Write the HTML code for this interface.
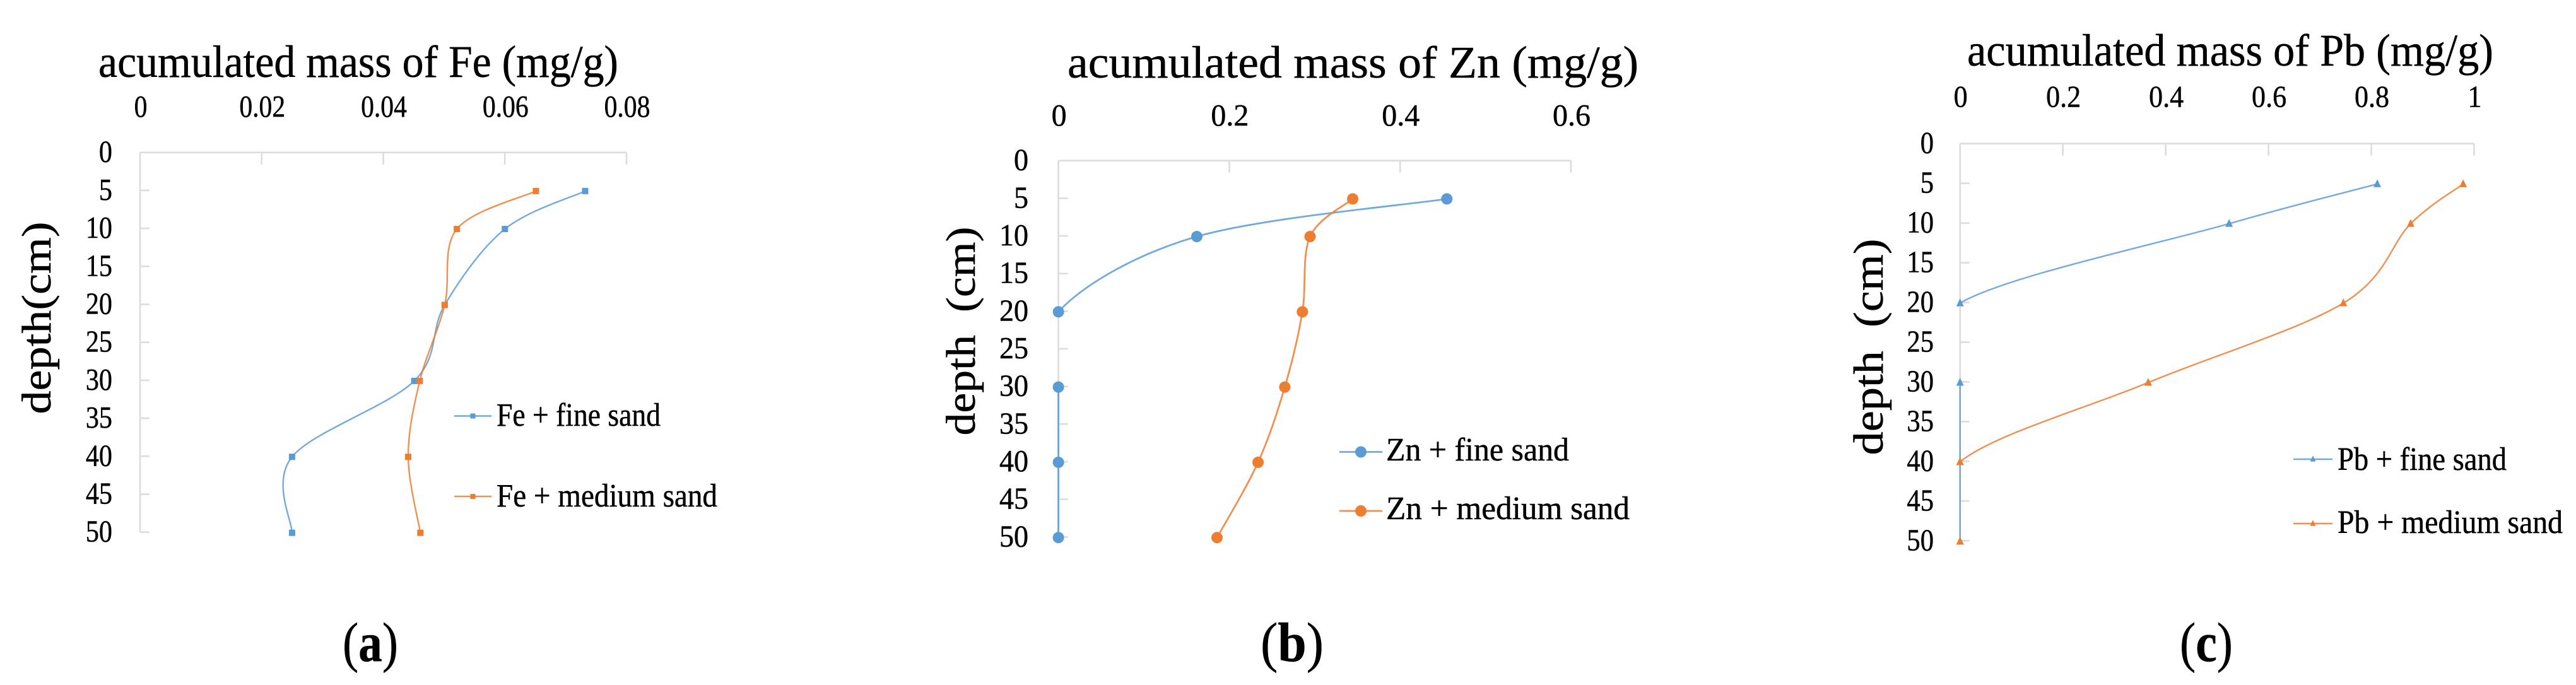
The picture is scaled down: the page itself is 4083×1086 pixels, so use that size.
<!DOCTYPE html>
<html lang="en">
<head>
<meta charset="utf-8">
<title>Accumulated mass of Fe, Zn and Pb by depth</title>
<style>
html,body{margin:0;padding:0;background:#fff;}
svg{display:block;}
text{font-family:"Liberation Serif",serif;fill:#000;stroke:#000;stroke-width:0.5px;white-space:pre;}
</style>
</head>
<body>
<svg id="figure" xmlns="http://www.w3.org/2000/svg" width="4083" height="1086" viewBox="0 0 4083 1086">
  <g id="chart-a">
    <text x="156" y="122" font-size="72" textLength="824" lengthAdjust="spacingAndGlyphs">acumulated mass of Fe (mg/g)</text>
    <text transform="translate(80,504) rotate(-90)" text-anchor="middle" font-size="66" textLength="305" lengthAdjust="spacingAndGlyphs">depth(cm)</text>
    <text x="787" y="675" font-size="52" textLength="260" lengthAdjust="spacingAndGlyphs">Fe + fine sand</text>
    <text x="787" y="803" font-size="52" textLength="350" lengthAdjust="spacingAndGlyphs">Fe + medium sand</text>
    <text x="543" y="1048" font-size="88" textLength="88" lengthAdjust="spacingAndGlyphs">(<tspan font-weight="bold">a</tspan>)</text>
  </g>
  <g id="chart-b">
    <text x="1692" y="123" font-size="72" textLength="905" lengthAdjust="spacingAndGlyphs">acumulated mass of Zn (mg/g)</text>
    <text transform="translate(1545,525) rotate(-90)" text-anchor="middle" font-size="66" textLength="331" lengthAdjust="spacingAndGlyphs">depth  (cm)</text>
    <text x="2197" y="730" font-size="52" textLength="290" lengthAdjust="spacingAndGlyphs">Zn + fine sand</text>
    <text x="2197" y="823" font-size="52" textLength="386" lengthAdjust="spacingAndGlyphs">Zn + medium sand</text>
    <text x="1998" y="1048" font-size="88" textLength="100" lengthAdjust="spacingAndGlyphs">(<tspan font-weight="bold">b</tspan>)</text>
  </g>
  <g id="chart-c">
    <text x="3118" y="104" font-size="72" textLength="834" lengthAdjust="spacingAndGlyphs">acumulated mass of Pb (mg/g)</text>
    <text transform="translate(2984,550) rotate(-90)" text-anchor="middle" font-size="67" textLength="343" lengthAdjust="spacingAndGlyphs">depth  (cm)</text>
    <text x="3705" y="745" font-size="52" textLength="268" lengthAdjust="spacingAndGlyphs">Pb + fine sand</text>
    <text x="3705" y="845" font-size="52" textLength="357" lengthAdjust="spacingAndGlyphs">Pb + medium sand</text>
    <text x="3455" y="1048" font-size="88" textLength="84" lengthAdjust="spacingAndGlyphs">(<tspan font-weight="bold">c</tspan>)</text>
  </g>
</svg>
<script>
// Shared depth categories and tick labels
const depths = [5, 10, 20, 30, 40, 50];
const depthTicks = [0, 5, 10, 15, 20, 25, 30, 35, 40, 45, 50];

// Fe chart data
const feTicks = [0, 0.02, 0.04, 0.06, 0.08];
const feTickLabels = ['0', '0.02', '0.04', '0.06', '0.08'];
const feFine = [0.0732, 0.06, 0.0501, 0.0451, 0.025, 0.025];
const feMedium = [0.0651, 0.0521, 0.0501, 0.046, 0.0441, 0.0461];
const feFineGaps = [];
const feMediumGaps = [];

// Zn chart data
const znTicks = [0, 0.2, 0.4, 0.6];
const znTickLabels = ['0', '0.2', '0.4', '0.6'];
const znFine = [0.4547, 0.162, 0, 0, 0, 0];
const znMedium = [0.3445, 0.2946, 0.2856, 0.265, 0.2337, 0.1857];
const znFineGaps = [20];
const znMediumGaps = [];

// Pb chart data
const pbTicks = [0, 0.2, 0.4, 0.6, 0.8, 1];
const pbTickLabels = ['0', '0.2', '0.4', '0.6', '0.8', '1'];
const pbFine = [0.8117, 0.5234, 0, 0, 0, 0];
const pbMedium = [0.9787, 0.8766, 0.7457, 0.366, 0, 0];
const pbFineGaps = [20];
const pbMediumGaps = [40];

const SVGNS = 'http://www.w3.org/2000/svg';
const BLUE = '#5b9bd5';
const ORANGE = '#ed7d31';
const AXIS = '#dcdcdc';

function make(tag, parent, attrs) {
  const el = document.createElementNS(SVGNS, tag);
  for (const k in attrs) el.setAttribute(k, attrs[k]);
  parent.appendChild(el);
  return el;
}

function drawMarker(parent, shape, cx, cy, size, color, name) {
  let el;
  if (shape === 'square') {
    el = make('rect', parent, {x: cx - size / 2, y: cy - size / 2, width: size, height: size, fill: color});
  } else if (shape === 'circle') {
    el = make('circle', parent, {cx: cx, cy: cy, r: size / 2, fill: color});
  } else {
    const pts = [[cx, cy - size * 0.62], [cx + size / 2, cy + size * 0.42], [cx - size / 2, cy + size * 0.42]];
    el = make('polygon', parent, {points: pts.map(p => p.join(',')).join(' '), fill: color});
  }
  
  
  return el;
}

// Smoothed path over the whole series; segments that start at a gap depth are skipped,
// but their points still shape the neighbouring curves.
function smoothPath(pts, skip) {
  let d = '';
  for (let i = 0; i < pts.length - 1; i++) {
    if (skip[i]) continue;
    const p0 = pts[Math.max(i - 1, 0)], p1 = pts[i], p2 = pts[i + 1], p3 = pts[Math.min(i + 2, pts.length - 1)];
    d += 'M' + p1[0] + ' ' + p1[1];
    d += 'C' + (p1[0] + (p2[0] - p0[0]) / 6) + ' ' + (p1[1] + (p2[1] - p0[1]) / 6) + ' '
      + (p2[0] - (p3[0] - p1[0]) / 6) + ' ' + (p2[1] - (p3[1] - p1[1]) / 6) + ' '
      + p2[0] + ' ' + p2[1];
  }
  return d;
}

function drawChart(cfg) {
  const root = document.getElementById(cfg.id);
  const maxX = cfg.xTicks[cfg.xTicks.length - 1];
  const xScale = v => cfg.left + (v / maxX) * (cfg.right - cfg.left);
  const yScale = d => cfg.top + (d / 50) * (cfg.bottom - cfg.top);

  const axes = make('g', root, {stroke: AXIS, 'stroke-width': 2.6, fill: 'none'});
  
  

  const xLine = make('line', axes, {x1: cfg.left, x2: cfg.right, y1: cfg.top, y2: cfg.top});
  
  
  const yLine = make('line', axes, {x1: cfg.left, x2: cfg.left, y1: cfg.top, y2: cfg.bottom});
  
  

  cfg.xTicks.forEach((t, i) => {
    const x = xScale(t);
    if (i > 0) {
      const tick = make('line', axes, {x1: x, x2: x, y1: cfg.top, y2: cfg.top + 19});
      
      
    }
    const label = make('text', root, {
      transform: 'translate(' + (x + 1) + ',' + cfg.xLabelY + ') scale(' + cfg.xSx + ',1)',
      'text-anchor': 'middle', 'font-size': 49
    });
    label.textContent = cfg.xLabels[i];
    
    
  });

  depthTicks.forEach(d => {
    const y = yScale(d);
    if (d > 0) {
      const tick = make('line', axes, {x1: cfg.left, x2: cfg.left + 15, y1: y, y2: y});
      
      
    }
    const label = make('text', root, {
      transform: 'translate(' + cfg.yLabelX + ',' + (y + 15) + ') scale(' + cfg.ySx + ',1)',
      'text-anchor': 'end', 'font-size': 49
    });
    label.textContent = String(d);
    
    
  });

  cfg.series.forEach(s => {
    const group = make('g', root, {});
    
    

    const pts = depths.map((d, i) => [xScale(s.values[i]), yScale(d) + 1]);
    const skip = depths.map(d => s.gaps.indexOf(d) >= 0);
    const path = make('path', group, {d: smoothPath(pts, skip), fill: 'none', stroke: s.color, 'stroke-width': cfg.lineW, 'stroke-opacity': 0.85});
    
    

    depths.forEach((d, i) => {
      drawMarker(group, cfg.shape, xScale(s.values[i]), yScale(d) + 1, cfg.markerSize, s.color, cfg.key + '-point-' + s.label);
    });

    const legendLine = make('line', root, {x1: cfg.legX1, x2: cfg.legX2, y1: s.legY, y2: s.legY, stroke: s.color, 'stroke-width': cfg.lineW, 'stroke-opacity': 0.85});
    
    
    drawMarker(root, cfg.shape, (cfg.legX1 + cfg.legX2) / 2, s.legY, cfg.legMarker, s.color, cfg.key + '-legend-marker-' + s.label);
  });
}

drawChart({
  id: 'chart-a', key: 'fe', left: 222, right: 993, top: 241.7, bottom: 843.7,
  xTicks: feTicks, xLabels: feTickLabels, xLabelY: 185, yLabelX: 178, xSx: 0.85, ySx: 0.86,
  shape: 'square', markerSize: 10, legMarker: 8, lineW: 2.4, legX1: 720, legX2: 779,
  series: [
    {label: 'fine-sand', values: feFine, gaps: feFineGaps, color: BLUE, legY: 659.5},
    {label: 'medium-sand', values: feMedium, gaps: feMediumGaps, color: ORANGE, legY: 787}
  ]
});
drawChart({
  id: 'chart-b', key: 'zn', left: 1677.6, right: 2490, top: 254.7, bottom: 851.3,
  xTicks: znTicks, xLabels: znTickLabels, xLabelY: 199, yLabelX: 1630, xSx: 0.98, ySx: 0.94,
  shape: 'circle', markerSize: 18, legMarker: 18, lineW: 2.8, legX1: 2123, legX2: 2191,
  series: [
    {label: 'fine-sand', values: znFine, gaps: znFineGaps, color: BLUE, legY: 716.5},
    {label: 'medium-sand', values: znMedium, gaps: znMediumGaps, color: ORANGE, legY: 810}
  ]
});
drawChart({
  id: 'chart-c', key: 'pb', left: 3106.7, right: 3921.5, top: 227.7, bottom: 857.3,
  xTicks: pbTicks, xLabels: pbTickLabels, xLabelY: 169.5, yLabelX: 3065, xSx: 0.9, ySx: 0.87,
  shape: 'triangle', markerSize: 12, legMarker: 9, lineW: 2.4, legX1: 3635, legX2: 3697,
  series: [
    {label: 'fine-sand', values: pbFine, gaps: pbFineGaps, color: BLUE, legY: 728},
    {label: 'medium-sand', values: pbMedium, gaps: pbMediumGaps, color: ORANGE, legY: 830}
  ]
});
</script>
</body>
</html>
